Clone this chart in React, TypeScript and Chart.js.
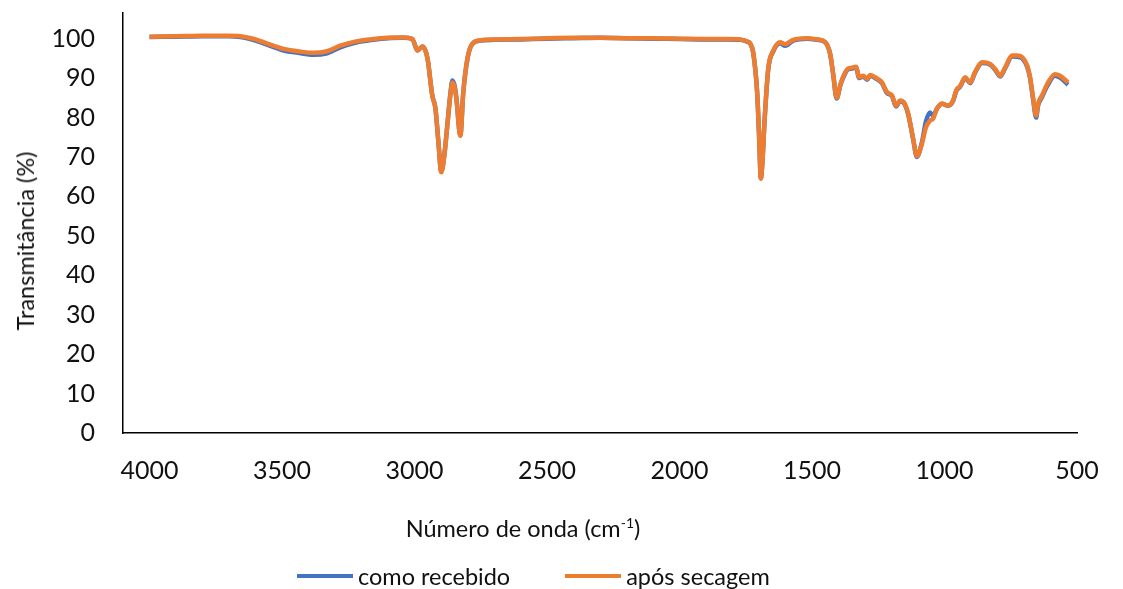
import React, { useEffect, useRef } from "react";
import { Chart, registerables } from "chart.js";

Chart.register(...registerables);

// Wavenumber (cm-1)
const wavenumbers = [
  4000, 3900, 3800, 3700, 3657, 3600, 3570, 3494, 3440, 3381, 3330, 3280, 3220, 3155, 3100, 3042,
  3008, 2989, 2970, 2951, 2933, 2921, 2910, 2899, 2888, 2876, 2865, 2857, 2848, 2842, 2827, 2816,
  2800, 2782, 2751, 2700, 2600, 2500, 2400, 2300, 2200, 2100, 2000, 1900, 1820, 1771, 1745, 1733,
  1722, 1707, 1700, 1693, 1686, 1680, 1665, 1646, 1620, 1601, 1571, 1518, 1480, 1451, 1432, 1420,
  1407, 1392, 1375, 1364, 1345, 1334, 1322, 1307, 1292, 1281, 1262, 1236, 1217, 1198, 1183, 1168,
  1155, 1137, 1119, 1104, 1085, 1070, 1055, 1043, 1028, 1009, 987, 968, 955, 941, 922, 903,
  885, 858, 828, 809, 790, 771, 745, 726, 707, 688, 677, 666, 654, 647, 632, 609,
  583, 564, 534,
];

// "após secagem" transmittance (%)
const aposSecagem = [
  100.5, 100.6, 100.7, 100.7, 100.6, 99.8, 99.1, 97.4, 96.8, 96.4, 96.8, 98.2, 99.3, 99.9, 100.2, 100.3,
  99.9, 97.0, 98.0, 95.0, 85.6, 82.3, 74.0, 66.1, 70.0, 78.0, 85.5, 88.9, 87.5, 84.8, 75.4, 86.3,
  95.0, 98.7, 99.6, 99.8, 99.9, 100.1, 100.2, 100.2, 100.1, 100.1, 100.0, 99.9, 99.9, 99.8, 99.3, 98.8,
  96.5, 86.4, 76.0, 64.5, 70.0, 78.0, 92.4, 97.0, 99.1, 98.6, 99.7, 100.1, 99.8, 99.2, 96.3, 91.0,
  85.0, 88.6, 91.4, 92.4, 92.7, 92.9, 90.2, 90.6, 89.8, 90.8, 90.2, 88.9, 86.4, 85.6, 83.0, 84.3,
  84.0, 81.0, 74.9, 70.2, 73.4, 77.5, 79.2, 79.7, 82.3, 83.5, 83.0, 84.3, 87.0, 88.0, 90.2, 88.9,
  91.5, 94.0, 93.6, 92.3, 90.6, 92.7, 95.7, 95.7, 95.3, 93.2, 90.2, 85.1, 80.5, 83.5, 85.6, 88.9,
  91.0, 90.6, 88.9,
];

// "como recebido" transmittance (%)
const comoRecebido = [
  100.4, 100.5, 100.6, 100.6, 100.4, 99.5, 98.8, 97.0, 96.4, 95.9, 96.3, 97.8, 99.0, 99.7, 100.1, 100.2,
  99.9, 97.0, 98.0, 95.0, 85.6, 82.3, 74.0, 66.3, 70.2, 78.2, 85.8, 89.4, 87.9, 85.0, 75.5, 86.3,
  95.0, 98.6, 99.5, 99.7, 99.8, 100.0, 100.1, 100.2, 100.1, 100.0, 99.9, 99.8, 99.8, 99.7, 99.2, 98.7,
  96.5, 86.4, 76.0, 64.6, 70.0, 78.0, 92.3, 96.8, 98.8, 98.2, 99.5, 100.0, 99.7, 99.1, 96.2, 90.9,
  84.8, 88.4, 91.2, 92.2, 92.5, 92.7, 90.0, 90.4, 89.6, 90.6, 90.0, 88.7, 86.2, 85.4, 82.8, 84.1,
  83.8, 80.8, 74.7, 70.0, 73.8, 79.0, 81.3, 80.5, 82.3, 83.5, 83.0, 84.1, 86.8, 87.8, 90.0, 88.7,
  91.3, 93.8, 93.4, 92.1, 90.4, 92.5, 95.5, 95.4, 95.0, 92.9, 89.9, 84.8, 80.0, 83.0, 85.2, 88.4,
  90.6, 90.1, 88.3,
];

const seriesNames = ["como recebido", "após secagem"];
const seriesColors = ["#4472C4", "#ED7D31"];
const xTicks = [4000, 3500, 3000, 2500, 2000, 1500, 1000, 500];
const yTicks = [0, 10, 20, 30, 40, 50, 60, 70, 80, 90, 100];

const FONT = "Lato, 'Noto Sans', sans-serif";
const TEXT = "#111111";

export default function App() {
  const canvasRef = useRef<HTMLCanvasElement | null>(null);

  useEffect(() => {
    document.body.style.margin = "0";
    const canvas = canvasRef.current;
    if (!canvas) return;
    const toPoints = (ys: number[]) => wavenumbers.map((x, i) => ({ x, y: ys[i] }));
    const chart = new Chart(canvas, {
      type: "line",
      data: {
        datasets: [
          {
            label: seriesNames[0],
            data: toPoints(comoRecebido),
            borderColor: seriesColors[0],
            backgroundColor: seriesColors[0],
            borderWidth: 4.5,
            pointRadius: 0,
            cubicInterpolationMode: "monotone",
            fill: false,
            order: 2,
          },
          {
            label: seriesNames[1],
            data: toPoints(aposSecagem),
            borderColor: seriesColors[1],
            backgroundColor: seriesColors[1],
            borderWidth: 4.5,
            pointRadius: 0,
            cubicInterpolationMode: "monotone",
            fill: false,
            order: 1,
          },
        ],
      },
      options: {
        responsive: false,
        animation: false,
        devicePixelRatio: 1,
        layout: { padding: { left: 11, right: 46, top: 13, bottom: 37 } },
        plugins: {
          tooltip: { enabled: false },
          legend: { display: false },
        },
        scales: {
          x: {
            type: "linear",
            reverse: true,
            min: 500,
            max: 4100,
            afterBuildTicks: (axis: any) => {
              axis.ticks = xTicks.map((v) => ({ value: v }));
            },
            afterFit: (axis: any) => {
              axis.height = 119;
            },
            grid: { display: false, drawTicks: false },
            border: { display: true, color: "#000000", width: 1.5 },
            ticks: {
              color: TEXT,
              font: { family: FONT, size: 25 },
              padding: 23,
              maxRotation: 0,
              autoSkip: false,
              callback: (v: any) => String(v),
            },
            title: { display: false },
          },
          y: {
            type: "linear",
            min: 0,
            max: 106.5,
            afterBuildTicks: (axis: any) => {
              axis.ticks = yTicks.map((v) => ({ value: v }));
            },
            afterFit: (axis: any) => {
              axis.width = 112;
              axis.paddingTop = 0;
              axis.paddingBottom = 0;
            },
            grid: { display: false, drawTicks: false },
            border: { display: true, color: "#000000", width: 1.5 },
            ticks: {
              color: TEXT,
              font: { family: FONT, size: 25 },
              padding: 28,
              callback: (v: any) => String(v),
            },
            title: { display: false },
          },
        },
      },
    });
    return () => chart.destroy();
  }, []);

  return (
    <div style={{ width: 1123, height: 589, position: "relative", background: "#ffffff", fontFamily: FONT, color: TEXT }}>
      <canvas ref={canvasRef} width={1123} height={589} style={{ display: "block" }} />
      {/* y-axis title */}
      <div
        style={{
          position: "absolute",
          left: 25,
          top: 241,
          transform: "translate(-50%, -50%) rotate(-90deg)",
          fontSize: 23.5,
          lineHeight: "28px",
          whiteSpace: "nowrap",
        }}
      >
        Transmitância (%)
      </div>
      {/* x-axis title */}
      <div
        style={{
          position: "absolute",
          left: 0,
          width: 1046,
          top: 514,
          textAlign: "center",
          fontSize: 23.5,
          lineHeight: "28px",
          whiteSpace: "nowrap",
        }}
      >
        Número de onda (cm<sup style={{ fontSize: 14, lineHeight: 0, verticalAlign: 9 }}>-1</sup>)
      </div>
      {/* legend */}
      <div
        style={{
          position: "absolute",
          left: 297,
          top: 561,
          height: 30,
          display: "flex",
          alignItems: "center",
          fontSize: 23.5,
          whiteSpace: "nowrap",
        }}
      >
        {seriesNames.map((name, i) => (
          <div
            key={name}
            style={{ display: "flex", alignItems: "center", marginLeft: i === 0 ? 0 : 55 }}
          >
            <span
              style={{
                display: "inline-block",
                width: 56,
                height: 4.5,
                background: seriesColors[i],
                marginRight: 5,
              }}
            />
            <span>{name}</span>
          </div>
        ))}
      </div>
    </div>
  );
}
